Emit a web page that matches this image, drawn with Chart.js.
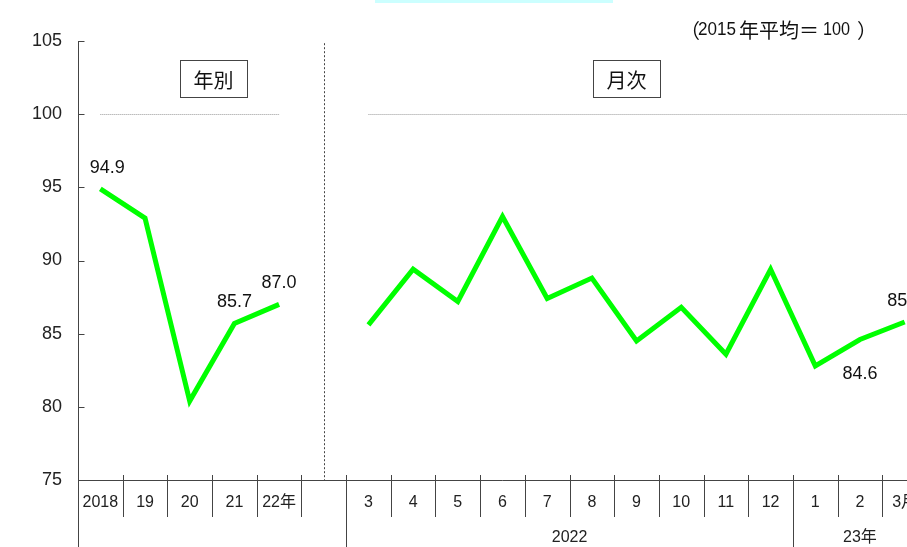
<!DOCTYPE html>
<html>
<head>
<meta charset="utf-8">
<script src="https://cdn.jsdelivr.net/npm/chart.js@4"></script>
<style>
  html, body { margin: 0; padding: 0; overflow: hidden; background: #fff; }
  canvas { display: block; }
</style>
</head>
<body>
<canvas id="chart" width="927" height="547"></canvas>
<script>
// categories: 5 years, one empty slot, then monthly (2022/3 - 2023/3)
const categories = ['2018', '19', '20', '21', '22年', '', '3', '4', '5', '6', '7', '8', '9', '10', '11', '12', '1', '2', '3月'];
const annualValues = [94.9, 92.9, 80.4, 85.7, 87.0];
const monthlyValues = [85.6, 89.4, 87.2, 93.0, 87.4, 88.8, 84.5, 86.8, 83.6, 89.4, 82.8, 84.6, 85.8];
const yTicks = [75, 80, 85, 90, 95, 100, 105];
const yearGroups = [['2022', 6, 15], ['23年', 16, 18]];
const labelledPoints = [[0, 'above'], [3, 'above'], [4, 'above'], [17, 'below'], [18, 'above']];

const values = [...annualValues, null, ...monthlyValues];
const FONT = '"Liberation Sans", "Noto Sans CJK JP", sans-serif';
const CJK = '"Noto Sans CJK JP", sans-serif';
const AXIS = '#444';

function line(ctx, x1, y1, x2, y2) {
    ctx.beginPath();
    ctx.moveTo(x1, y1);
    ctx.lineTo(x2, y2);
    ctx.stroke();
}

const decor = {
    id: 'decor',
    beforeDatasetsDraw(chart) {
        const { ctx, chartArea: a, scales: { x, y } } = chart;
        ctx.save();
        ctx.lineWidth = 1;
        // 100 reference lines
        ctx.strokeStyle = '#999';
        ctx.setLineDash([1, 1]);
        const y100 = Math.round(y.getPixelForValue(100)) + 0.5;
        line(ctx, x.getPixelForValue(0), y100, x.getPixelForValue(4), y100);
        line(ctx, x.getPixelForValue(6), y100, a.right, y100);
        // divider between annual and monthly
        ctx.strokeStyle = AXIS;
        ctx.setLineDash([2, 2]);
        const xd = Math.round(x.getPixelForValue(5)) + 0.5;
        line(ctx, xd, y.getPixelForValue(104.85), xd, a.bottom);
        ctx.restore();
    },
    afterDraw(chart) {
        const { ctx, chartArea: a, scales: { x, y } } = chart;
        const H = chart.height;
        const half = (x.getPixelForValue(1) - x.getPixelForValue(0)) / 2;
        ctx.save();
        ctx.strokeStyle = AXIS;
        ctx.lineWidth = 1;
        // y axis + inward ticks
        const ax = Math.round(a.left) + 0.5;
        line(ctx, ax, y.getPixelForValue(105), ax, H);
        yTicks.forEach(v => {
            const py = Math.round(y.getPixelForValue(v)) + 0.5;
            line(ctx, ax, py, ax + 6, py);
        });
        // x axis
        const by = Math.round(a.bottom) + 0.5;
        line(ctx, ax, by, a.right, by);
        // category separators
        for (let i = 1; i <= categories.length; i++) {
            const px = Math.round(x.getPixelForValue(i) - half) + 0.5;
            const long = i === 6 || i === 16;
            line(ctx, px, a.bottom - 5, px, long ? H : a.bottom + 37);
        }
        // year group labels
        ctx.fillStyle = '#222';
        ctx.font = '16px ' + FONT;
        ctx.textAlign = 'center';
        ctx.textBaseline = 'middle';
        yearGroups.forEach(([label, from, to]) => {
            const cx = (x.getPixelForValue(from) + x.getPixelForValue(to)) / 2;
            ctx.fillText(label, cx, 538);
        });
        // section boxes
        ctx.font = '20px ' + CJK;
        [['年別', 213.5], ['月次', 626.5]].forEach(([t, cx]) => {
            ctx.strokeRect(cx - 33.5 + 0.5, 60.5, 67, 37);
            ctx.fillStyle = '#111';
            ctx.fillText(t, cx, 80);
        });
        // base note, drawn in runs (wide CJK glyphs, condensed digits)
        ctx.textAlign = 'left';
        [['（', CJK, 20, 680, 40], ['2015', FONT, 19, 698, 38], ['年平均＝', CJK, 20, 739, 90], ['100', FONT, 19, 823, 27], ['）', CJK, 20, 857, 40]].forEach(([t, f, s, nx, w]) => {
            ctx.font = s + 'px ' + f;
            ctx.fillText(t, nx, 30, w);
        });
        // top marker
        ctx.fillStyle = '#ccffff';
        ctx.fillRect(375, 0, 238, 3);
        // value labels
        ctx.textAlign = 'center';
        ctx.fillStyle = '#111';
        ctx.font = '18px ' + FONT;
        labelledPoints.forEach(([i, pos]) => {
            const px = x.getPixelForValue(i) + (i === 0 ? 7 : 0);
            const py = y.getPixelForValue(values[i]) + (pos === 'above' ? -21 : 35);
            ctx.fillText(values[i].toFixed(1), px, py);
        });
        ctx.restore();
    }
};

new Chart(document.getElementById('chart'), {
    type: 'line',
    data: {
        labels: categories,
        datasets: [{
            data: values,
            borderColor: '#00ff00',
            borderWidth: 5,
            pointRadius: 0,
            tension: 0,
            spanGaps: false,
            borderJoinStyle: 'miter'
        }]
    },
    options: {
        responsive: false,
        animation: false,
        layout: { padding: { top: 41, left: 0, right: 0, bottom: 0 } },
        plugins: { legend: { display: false }, tooltip: { enabled: false } },
        scales: {
            x: {
                type: 'category',
                offset: true,
                grid: { display: false },
                border: { display: false },
                ticks: { autoSkip: false, maxRotation: 0, padding: 5, color: '#222', font: { size: 16, family: FONT } },
                afterFit(scale) { scale.height = 67; }
            },
            y: {
                min: 75,
                max: 105,
                ticks: { stepSize: 5, padding: 8, color: '#222', font: { size: 18, family: FONT } },
                grid: { display: false },
                border: { display: false },
                afterFit(scale) { scale.width = 78; }
            }
        }
    },
    plugins: [decor]
});
</script>
</body>
</html>
